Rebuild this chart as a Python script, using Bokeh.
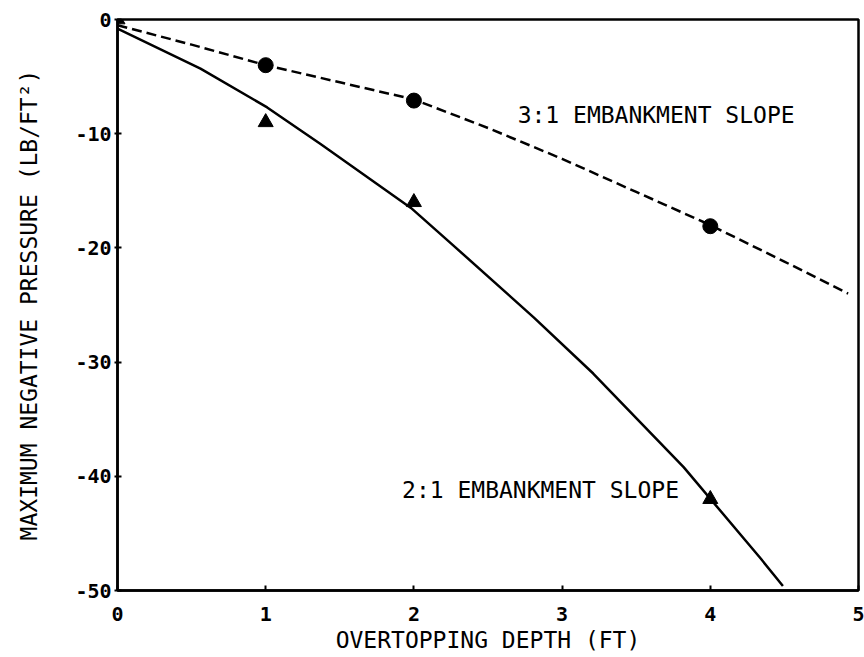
from bokeh.plotting import figure
from bokeh.models import Range1d, FixedTicker, Label
from bokeh.embed import file_html
from bokeh.resources import INLINE

# Measured points
tri_x = [0, 1, 2, 4]          # 2:1 embankment slope
tri_y = [0, -9.0, -16.0, -42.0]
circ_x = [1, 2, 4]            # 3:1 embankment slope
circ_y = [-4.0, -7.1, -18.1]

# Fitted curves
curve21_x = [0.0, 0.56, 1.01, 1.37, 1.98, 2.25, 2.81, 3.21, 3.82, 4.34, 4.49]
curve21_y = [-0.8, -4.3, -7.7, -10.9, -16.5, -19.6, -26.1, -31.0, -39.2, -47.2, -49.6]
curve31_x = [0.0, 0.5, 1.0, 1.5, 2.0, 2.5, 3.0, 3.5, 4.0, 4.5, 4.93]
curve31_y = [-0.5, -2.2, -4.0, -5.5, -7.0, -9.5, -12.2, -15.1, -18.0, -21.2, -24.0]

x_ticks = [0, 1, 2, 3, 4, 5]
x_tick_labels = ["0", "1", "2", "3", "4", "5"]
y_ticks = [0, -10, -20, -30, -40, -50]
y_tick_labels = ["0", "-10", "-20", "-30", "-40", "-50"]

FONT = "DejaVu Sans Mono"

p = figure(width=864, height=657, output_backend="svg", toolbar_location=None,
           x_range=Range1d(0, 5), y_range=Range1d(-50, 0),
           min_border_left=117, min_border_right=6, min_border_top=19, min_border_bottom=67)
p.grid.visible = False
p.background_fill_color = "white"
p.border_fill_color = "white"
p.outline_line_color = "black"
p.outline_line_width = 2.5

p.xaxis.ticker = FixedTicker(ticks=x_ticks)
p.xaxis.major_label_overrides = {t: l for t, l in zip(x_ticks, x_tick_labels)}
p.yaxis.ticker = FixedTicker(ticks=y_ticks)
p.yaxis.major_label_overrides = {t: l for t, l in zip(y_ticks, y_tick_labels)}

for ax in (p.xaxis[0], p.yaxis[0]):
    ax.axis_line_width = 2.5
    ax.axis_line_color = "black"
    ax.major_tick_line_width = 2
    ax.major_tick_line_color = "black"
    ax.minor_tick_line_color = None
    ax.major_label_text_font = FONT
    ax.major_label_text_font_size = "20px"
    ax.major_label_text_font_style = "bold"
    ax.major_label_text_color = "black"
    ax.axis_label_text_font = FONT
    ax.axis_label_text_font_size = "23px"
    ax.axis_label_text_font_style = "normal"
    ax.axis_label_text_color = "black"

p.xaxis.major_tick_in = 5
p.xaxis.major_tick_out = 0
p.xaxis.major_label_standoff = 16
p.xaxis.axis_label = "OVERTOPPING DEPTH (FT)"
p.xaxis.axis_label_standoff = 3

p.yaxis.major_tick_in = 4
p.yaxis.major_tick_out = 3
p.yaxis.major_label_standoff = 3
p.yaxis.axis_label = "MAXIMUM NEGATIVE PRESSURE (LB/FT\u00b2)"
p.yaxis.axis_label_standoff = 30

p.line(curve31_x, curve31_y, line_color="black", line_width=2.5, line_dash="10 5")
p.line(curve21_x, curve21_y, line_color="black", line_width=2.5, line_join="round")

p.scatter(circ_x, circ_y, marker="circle", size=15, fill_color="black", line_color="black")
p.scatter(tri_x, tri_y, marker="triangle", size=15, fill_color="black", line_color="black")

p.add_layout(Label(x=2.70, y=-8.4, text="3:1 EMBANKMENT SLOPE", text_font=FONT,
                   text_font_size="23px", text_baseline="middle", text_align="left",
                   text_color="black"))
p.add_layout(Label(x=1.92, y=-41.2, text="2:1 EMBANKMENT SLOPE", text_font=FONT,
                   text_font_size="23px", text_baseline="middle", text_align="left",
                   text_color="black"))

open("out.html", "w").write(file_html(p, INLINE))
